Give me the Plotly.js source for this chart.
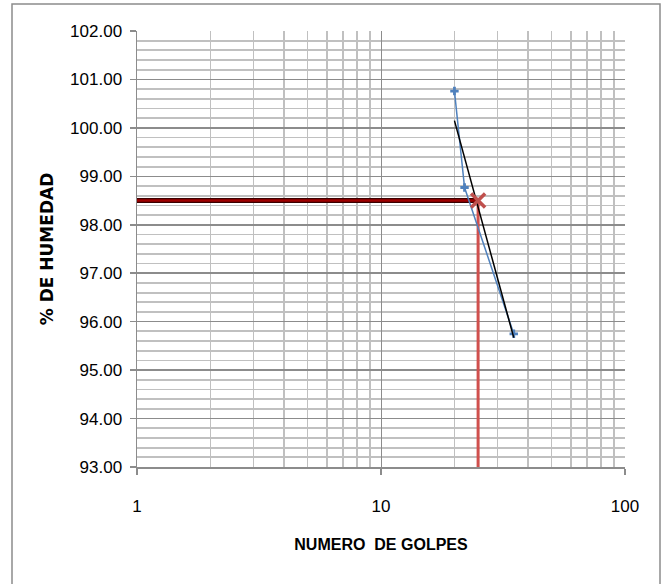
<!DOCTYPE html>
<html>
<head>
<meta charset="utf-8">
<script src="https://cdn.plot.ly/plotly-3.0.1.min.js"></script>
<style>html,body{margin:0;padding:0;background:#fff;}#chart{width:666px;height:584px;}</style>
</head>
<body>
<div id="chart"></div>
<script>
// Data
const golpes = [20, 22, 35];
const humedad = [100.76, 98.77, 95.75];
const trendX = [20, 35];
const trendY = [100.15, 95.67];
const limiteX = 25;
const limiteY = 98.5;
const xRangeMin = 1;
const yRangeMin = 93;
const yRangeMax = 102;
const xMinorTicks = [2, 3, 4, 5, 6, 7, 8, 9, 20, 30, 40, 50, 60, 70, 80, 90];
const xMajorTicks = [1, 10, 100];

const font = "Liberation Sans Narrow, Arial Narrow, Liberation Sans, sans-serif";

const traces = [
  { x: [xRangeMin, limiteX], y: [limiteY, limiteY], mode: 'lines', line: {color: '#3a0000', width: 5}, hoverinfo: 'skip' },
  { x: [xRangeMin, limiteX], y: [limiteY, limiteY], mode: 'lines', line: {color: '#a00000', width: 2.5}, hoverinfo: 'skip' },
  { x: [limiteX, limiteX], y: [limiteY, yRangeMin], mode: 'lines', line: {color: '#d0504d', width: 3}, hoverinfo: 'skip' },
  { x: golpes, y: humedad, mode: 'lines+markers', line: {color: '#4f81bd', width: 1.5},
    marker: {symbol: 'cross', size: 7, color: '#4f81bd'} },
  { x: trendX, y: trendY, mode: 'lines', line: {color: '#000000', width: 1.5} },
  { x: [limiteX], y: [limiteY], mode: 'markers', marker: {symbol: 'x-thin-open', size: 14, color: '#c0504d', line: {width: 3.5, color: '#c0504d'}} }
];

const layout = {
  width: 666, height: 584,
  margin: {l: 137, r: 41, t: 31, b: 117},
  paper_bgcolor: '#ffffff', plot_bgcolor: '#ffffff',
  showlegend: false,
  xaxis: {
    type: 'log', range: [0, 2], tickmode: 'array', tickvals: xMajorTicks, ticktext: xMajorTicks.map(String),
    showgrid: true, gridcolor: '#8c8c8c', gridwidth: 1,
    minor: {tickmode: 'array', tickvals: xMinorTicks, showgrid: true, gridcolor: '#c0c0c0', gridwidth: 1.8, ticks: ''},
    showline: true, linecolor: '#8c8c8c', linewidth: 1.5,
    ticks: 'outside', ticklen: 6, tickcolor: '#8c8c8c', tickwidth: 1.5,
    tickfont: {family: font, size: 17, color: '#000'},
    ticklabelstandoff: 17,
    zeroline: false,
    title: {text: 'NUMERO  DE GOLPES', font: {family: font, size: 16, color: '#000', weight: 'bold'}, standoff: 24}
  },
  yaxis: {
    range: [yRangeMin, yRangeMax], dtick: 1, tickformat: '.2f',
    showgrid: true, gridcolor: '#8c8c8c', gridwidth: 1.5,
    minor: {dtick: 0.2, showgrid: true, gridcolor: '#c0c0c0', gridwidth: 1.8},
    showline: true, linecolor: '#8c8c8c', linewidth: 1.5,
    ticks: 'outside', ticklen: 6, tickcolor: '#8c8c8c', tickwidth: 1.5,
    tickfont: {family: font, size: 17, color: '#000'},
    ticklabelstandoff: 4,
    zeroline: false,
    title: {text: '% DE HUMEDAD', font: {family: 'DejaVu Sans, sans-serif', size: 17, color: '#000', weight: 'bold'}, standoff: 12}
  },
  shapes: [
    {type: 'rect', xref: 'paper', yref: 'paper', layer: 'below',
     x0: -125/488, x1: 523/488, y0: -125/436, y1: 463/436,
     line: {color: '#8c8c8c', width: 1.5}, fillcolor: 'rgba(0,0,0,0)'}
  ]
};

Plotly.newPlot('chart', traces, layout, {displayModeBar: false, staticPlot: true});
</script>
</body>
</html>
